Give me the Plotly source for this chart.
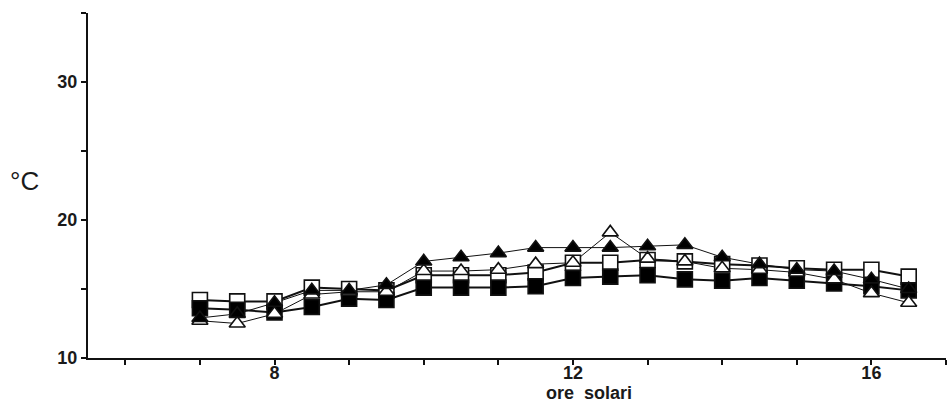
import plotly.graph_objects as go

hours = [7, 7.5, 8, 8.5, 9, 9.5, 10, 10.5, 11, 11.5, 12, 12.5, 13, 13.5, 14, 14.5, 15, 15.5, 16, 16.5]

open_sq = [14.2, 14.1, 14.1, 15.1, 15.0, 14.9, 16.0, 16.0, 16.0, 16.2, 16.9, 16.9, 17.1, 17.0, 16.8, 16.7, 16.5, 16.4, 16.4, 15.9]
filled_sq = [13.6, 13.5, 13.3, 13.7, 14.3, 14.2, 15.1, 15.1, 15.1, 15.2, 15.8, 15.9, 16.0, 15.7, 15.6, 15.8, 15.6, 15.4, 15.2, 14.9]
open_tri = [12.7, 12.5, 13.2, 14.6, 14.8, 14.8, 16.3, 16.3, 16.4, 16.8, 16.9, 19.1, 17.2, 17.0, 16.5, 16.4, 16.2, 15.7, 14.7, 14.0]
filled_tri = [12.9, 13.2, 14.0, 14.9, 14.9, 15.3, 17.0, 17.3, 17.6, 18.0, 18.0, 18.0, 18.1, 18.2, 17.3, 16.8, 16.4, 16.3, 15.7, 15.0]

x_ticks = list(range(6, 18))
x_labels = ["", "", "8", "", "", "", "12", "", "", "", "16", ""]
y_ticks = [10, 15, 20, 25, 30, 35]
y_labels = ["10", "", "20", "", "30", ""]

series = [
    (open_sq, "square", "white", 15, 2.0),
    (filled_sq, "square", "black", 15, 2.0),
    (open_tri, "triangle-up", "white", 14, 1.0),
    (filled_tri, "triangle-up", "black", 14, 1.0),
]

fig = go.Figure()
for vals, sym, fill, size, lw in series:
    fig.add_trace(go.Scatter(x=hours, y=vals, mode="lines",
                             line=dict(color="#111", width=lw),
                             showlegend=False, hoverinfo="skip"))
for vals, sym, fill, size, lw in series:
    fig.add_trace(go.Scatter(x=hours, y=vals, mode="markers",
                             marker=dict(symbol=sym, size=size, color=fill,
                                         line=dict(color="#111", width=1.6)),
                             showlegend=False))

tickfont = dict(family="Liberation Sans, Arial, sans-serif", size=18, color="#1a1a1a", weight="bold")

L, R, T, B = 88, 3, 13, 45
W, H = 949, 403
pw, ph = W - L - R, H - T - B

fig.update_layout(
    width=W, height=H,
    margin=dict(l=L, r=R, t=T, b=B, autoexpand=False),
    paper_bgcolor="white", plot_bgcolor="white",
    xaxis=dict(range=[5.5, 17], tickvals=x_ticks, ticktext=x_labels,
               ticks="outside", ticklen=5, tickwidth=1.5, tickcolor="#111",
               showline=True, linecolor="#111", linewidth=2, showgrid=False,
               zeroline=False, tickfont=tickfont, automargin=False,
               ticklabelstandoff=-8),
    yaxis=dict(range=[10, 35], tickvals=y_ticks, ticktext=y_labels,
               ticks="outside", ticklen=5, tickwidth=1.5, tickcolor="#111",
               showline=True, linecolor="#111", linewidth=2, showgrid=False,
               zeroline=False, tickfont=tickfont, automargin=False),
    annotations=[
        dict(text="°C", x=(24 - L) / pw, y=(H - B - 181) / ph, xref="paper", yref="paper",
             xanchor="center", yanchor="middle", showarrow=False,
             font=dict(family="Liberation Sans, Arial, sans-serif", size=26, color="#1a1a1a")),
        dict(text="ore  solari", x=(589 - L) / pw, y=(H - B - 393) / ph, xref="paper", yref="paper",
             xanchor="center", yanchor="middle", showarrow=False,
             font=dict(family="Liberation Sans, Arial, sans-serif", size=18, color="#1a1a1a", weight="bold")),
    ],
)

fig.write_html("out.html")
